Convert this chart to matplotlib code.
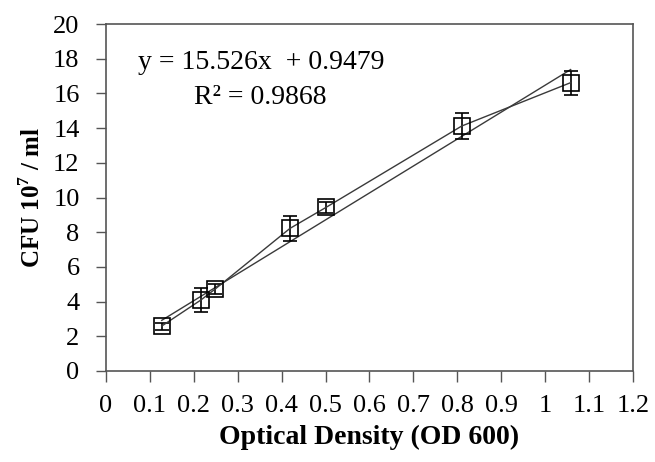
import matplotlib.pyplot as plt
import numpy as np

plt.rcParams['font.family'] = ['Liberation Serif', 'DejaVu Serif']
plt.rcParams['mathtext.fontset'] = 'custom'
plt.rcParams['mathtext.rm'] = 'Liberation Serif'
plt.rcParams['mathtext.bf'] = 'Liberation Serif:bold'

# data
od = [0.127, 0.216, 0.248, 0.419, 0.501, 0.810, 1.058]
cfu = [2.59, 4.09, 4.71, 8.22, 9.43, 14.12, 16.62]
cfu_err = [0.2, 0.7, 0.3, 0.7, 0.3, 0.75, 0.7]
slope = 15.526
intercept = 0.9479
r2 = 0.9868

x_ticks = [0, 0.1, 0.2, 0.3, 0.4, 0.5, 0.6, 0.7, 0.8, 0.9, 1, 1.1, 1.2]
x_tick_labels = ['0', '0.1', '0.2', '0.3', '0.4', '0.5', '0.6', '0.7', '0.8', '0.9', '1', '1.1', '1.2']
y_ticks = list(range(0, 21, 2))

fig = plt.figure(figsize=(6.55, 4.62), dpi=100)
ax = fig.add_axes([0.1618, 0.197, 0.8046, 0.751])

line_col = '#3a3a3a'

# measured points joined by a line
ax.errorbar(od, cfu, yerr=cfu_err, color=line_col, lw=1.0, marker='s', ms=11,
            mfc='none', mec='black', mew=1.2, ecolor='black', elinewidth=1.2,
            capsize=5, capthick=1.2, zorder=3)

# linear trendline
xs = np.array([od[0], od[-1]])
ax.plot(xs, slope * xs + intercept, color=line_col, lw=1.0, zorder=2)

ax.text(0.294, 0.89, f'y = {slope}x  + {intercept}', transform=ax.transAxes,
        ha='center', va='center', fontsize=20)
ax.text(0.292, 0.787, f'R² = {r2}', transform=ax.transAxes,
        ha='center', va='center', fontsize=20)

ax.set_xlim(0, 1.2)
ax.set_ylim(0, 20)
ax.set_xticks(x_ticks)
ax.set_xticklabels(x_tick_labels)
ax.set_yticks(y_ticks)
ax.tick_params(axis='both', labelsize=19, color='#555555', width=1.0)
ax.tick_params(axis='x', length=8, direction='in', pad=17)
ax.tick_params(axis='y', length=7, direction='out', pad=12)
# x ticks hang below the axis
for t in ax.xaxis.get_major_ticks():
    t.tick1line.set_marker(3)

for s in ax.spines.values():
    s.set_color('#555555')
    s.set_linewidth(1.2)

ax.set_xlabel('Optical Density (OD 600)', fontsize=20, fontweight='bold', labelpad=6)
ax.set_ylabel('CFU 10$^{\\mathbf{7}}$ / ml', fontsize=18, fontweight='bold', labelpad=6)

fig.savefig('out.png', dpi=100)
